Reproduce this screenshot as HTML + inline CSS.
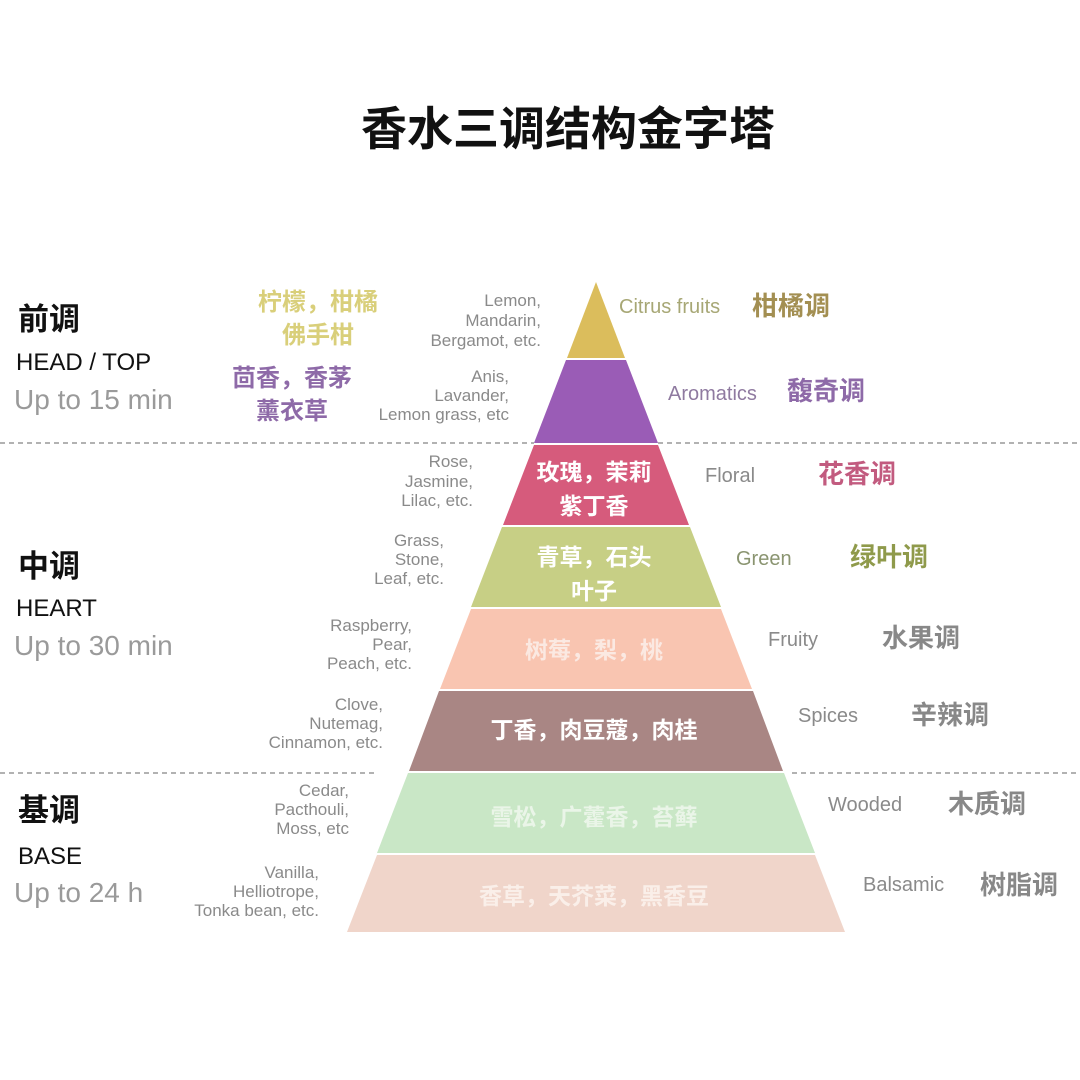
<!DOCTYPE html>
<html><head><meta charset="utf-8"><style>
html,body{margin:0;padding:0;background:#fff;}
svg{display:block;}
.cj{font-family:"Liberation Sans","Noto Sans CJK SC",sans-serif;font-weight:bold;}
.en{font-family:"Liberation Sans","Noto Sans CJK SC",sans-serif;fill:#8a8a8a;}
.ss{font-family:"Liberation Sans","Noto Sans CJK SC",sans-serif;}
</style></head><body>
<svg width="1080" height="1080" viewBox="0 0 1080 1080" xmlns="http://www.w3.org/2000/svg">
<rect width="1080" height="1080" fill="#fff"/>
<text x="568" y="145" text-anchor="middle" class="cj" font-size="46" fill="#111">香水三调结构金字塔</text>

<line x1="0" y1="443" x2="534" y2="443" stroke="#999" stroke-width="1.5" stroke-dasharray="5,4"/>
<line x1="658" y1="443" x2="1080" y2="443" stroke="#999" stroke-width="1.5" stroke-dasharray="5,4"/>
<line x1="0" y1="773" x2="375" y2="773" stroke="#999" stroke-width="1.5" stroke-dasharray="5,4"/>
<line x1="792" y1="773" x2="1080" y2="773" stroke="#999" stroke-width="1.5" stroke-dasharray="5,4"/>

<polygon points="596,282 625,358 567,358" fill="#dbbd5c"/>
<polygon points="566,360 626,360 658,443 534,443" fill="#9a5cb6"/>
<polygon points="534,445 658,445 689,525 503,525" fill="#d65b7c"/>
<polygon points="502,527 690,527 721,607 471,607" fill="#c7cf85"/>
<polygon points="471,609 721,609 752,689 440,689" fill="#f9c5b1"/>
<polygon points="439,691 753,691 783,771 409,771" fill="#a98684"/>
<polygon points="408,773 784,773 815,853 377,853" fill="#c9e7c6"/>
<polygon points="377,855 815,855 845,932 347,932" fill="#f0d5ca"/>

<g class="cj" fill="#fff" text-anchor="middle" font-size="23">
<text x="594" y="480">玫瑰，茉莉</text>
<text x="594" y="514">紫丁香</text>
<text x="594" y="565">青草，石头</text>
<text x="594" y="599">叶子</text>
<text x="594" y="658" fill="#fbe9e2">树莓，梨，桃</text>
<text x="594" y="738">丁香，肉豆蔻，肉桂</text>
<text x="594" y="825" fill="#eaf5e8">雪松，广藿香，苔藓</text>
<text x="594" y="904" fill="#faefe9">香草，天芥菜，黑香豆</text>
</g>

<text x="18" y="330" class="cj" font-size="31" fill="#111">前调</text>
<text x="16" y="370" class="ss" font-size="24" fill="#111">HEAD / TOP</text>
<text x="14" y="409" class="ss" font-size="28" fill="#9a9a9a">Up to 15 min</text>
<text x="18" y="577" class="cj" font-size="31" fill="#111">中调</text>
<text x="16" y="616" class="ss" font-size="24" fill="#111">HEART</text>
<text x="14" y="655" class="ss" font-size="28" fill="#9a9a9a">Up to 30 min</text>
<text x="18" y="821" class="cj" font-size="31" fill="#111">基调</text>
<text x="18" y="864" class="ss" font-size="24" fill="#111">BASE</text>
<text x="14" y="902" class="ss" font-size="28" fill="#9a9a9a">Up to 24 h</text>

<g class="cj" font-size="24" text-anchor="middle">
<text x="318" y="310" fill="#d9cf7a">柠檬，柑橘</text>
<text x="318" y="343" fill="#d9cf7a">佛手柑</text>
<text x="292" y="386" fill="#8e6aa8">茴香，香茅</text>
<text x="292" y="419" fill="#8e6aa8">薰衣草</text>
</g>

<g class="en" font-size="17" text-anchor="end">
<text x="541" y="306">Lemon,</text>
<text x="541" y="326">Mandarin,</text>
<text x="541" y="346">Bergamot, etc.</text>
<text x="509" y="382">Anis,</text>
<text x="509" y="401">Lavander,</text>
<text x="509" y="420">Lemon grass, etc</text>
<text x="473" y="467">Rose,</text>
<text x="473" y="487">Jasmine,</text>
<text x="473" y="506">Lilac, etc.</text>
<text x="444" y="546">Grass,</text>
<text x="444" y="565">Stone,</text>
<text x="444" y="584">Leaf, etc.</text>
<text x="412" y="631">Raspberry,</text>
<text x="412" y="650">Pear,</text>
<text x="412" y="669">Peach, etc.</text>
<text x="383" y="710">Clove,</text>
<text x="383" y="729">Nutemag,</text>
<text x="383" y="748">Cinnamon, etc.</text>
<text x="349" y="796">Cedar,</text>
<text x="349" y="815">Pacthouli,</text>
<text x="349" y="834">Moss, etc</text>
<text x="319" y="878">Vanilla,</text>
<text x="319" y="897">Helliotrope,</text>
<text x="319" y="916">Tonka bean, etc.</text>
</g>

<g class="en" font-size="20">
<text x="619" y="313" fill="#a7a775">Citrus fruits</text>
<text x="668" y="400" fill="#8f7aa0">Aromatics</text>
<text x="705" y="482">Floral</text>
<text x="736" y="565" fill="#8a9470">Green</text>
<text x="768" y="646">Fruity</text>
<text x="798" y="722">Spices</text>
<text x="828" y="811">Wooded</text>
<text x="863" y="891">Balsamic</text>
</g>
<g class="cj" font-size="26">
<text x="752" y="315" fill="#a38f52">柑橘调</text>
<text x="787" y="400" fill="#8e6aa8">馥奇调</text>
<text x="818" y="483" fill="#c25b7f">花香调</text>
<text x="850" y="566" fill="#8f9a4b">绿叶调</text>
<text x="882" y="647" fill="#888">水果调</text>
<text x="911" y="724" fill="#888">辛辣调</text>
<text x="948" y="813" fill="#888">木质调</text>
<text x="980" y="894" fill="#888">树脂调</text>
</g>
</svg>
</body></html>
